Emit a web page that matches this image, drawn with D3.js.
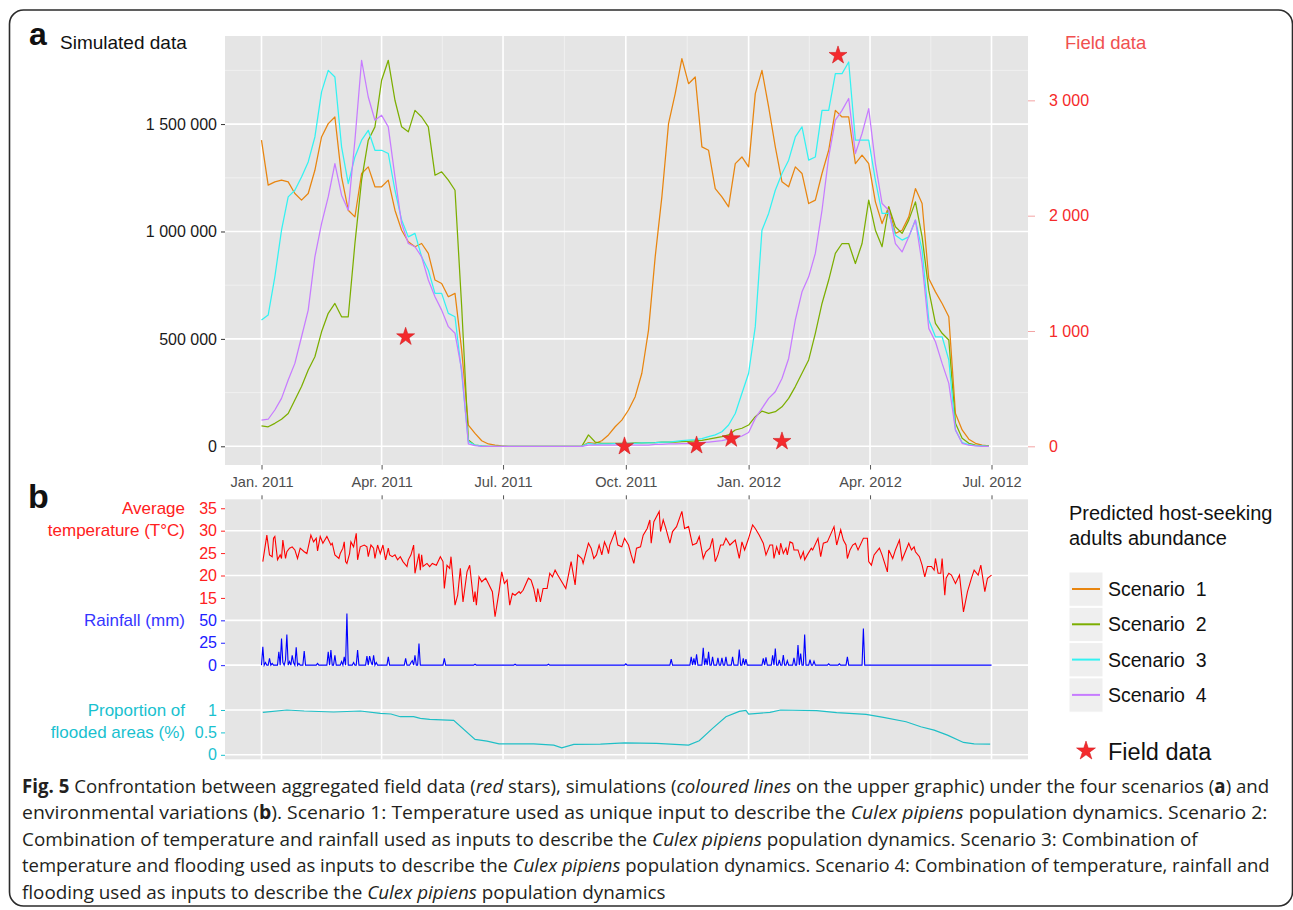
<!DOCTYPE html>
<html>
<head>
<meta charset="utf-8">
<script src="https://cdn.jsdelivr.net/npm/d3@7"></script>
<style>
  html, body { margin: 0; padding: 0; background: #fff; }
  svg { display: block; }
  text { white-space: pre; }
</style>
</head>
<body>
<svg id="fig" width="1293" height="910"></svg>
<script>
// ---------------------------------------------------------------------------
// Data
// ---------------------------------------------------------------------------
const START = new Date(2011, 0, 1);
const END = new Date(2012, 6, 1);
const STEP_DAYS = 5;              // spacing of the simulated abundance values

// Predicted host-seeking adults, thousands, one value every 5 days from 1 Jan 2011
const scenario1 = [
  1425,1216,1231,1239,1231,1177,1146,1177,1285,1440,
  1502,1533,1254,1099,1068,1270,1301,1208,1208,1239,
  1099,1006,952,929,944,898,774,758,696,712,
  448,99,60,26,11,5,2,0,0,0,
  0,0,0,0,0,0,0,0,0,17,
  14,26,53,91,122,169,231,340,541,882,
  1161,1502,1642,1805,1688,1719,1394,1378,1200,1161,
  1115,1316,1347,1301,1642,1750,1580,1394,1231,1208,
  1301,1270,1130,1146,1270,1378,1564,1533,1533,1316,
  1355,1316,1138,1037,1115,991,1006,1068,1200,1130,
  781,719,665,603,153,76,33,14,6,2
];
const scenario2 = [
  95,91,107,126,153,216,278,355,417,533,
  619,665,603,603,944,1239,1425,1487,1704,1797,
  1611,1487,1464,1564,1533,1487,1262,1278,1239,1192,
  650,29,5,2,0,0,0,0,0,0,
  0,0,0,0,0,0,0,0,0,53,
  20,14,14,14,14,14,16,16,17,17,
  19,19,20,22,23,25,28,33,39,45,
  53,76,84,99,138,164,153,161,184,223,
  278,340,402,526,665,774,898,944,944,851,
  944,1146,1006,929,1115,1022,991,1053,1138,975,
  727,572,526,495,107,37,14,6,3,2
];
const scenario3 = [
  588,611,789,1006,1161,1192,1254,1324,1440,1650,
  1750,1719,1394,1223,1347,1425,1471,1378,1378,1363,
  1192,1053,975,991,882,820,712,712,619,603,
  340,22,6,2,0,0,0,0,0,0,
  0,0,0,0,0,0,0,0,0,14,
  9,11,11,12,12,14,14,16,16,17,
  19,20,23,26,29,31,36,45,53,68,
  99,153,247,340,557,1006,1084,1192,1270,1332,
  1440,1487,1332,1347,1564,1564,1735,1735,1789,1425,
  1425,1425,1239,1084,1084,983,960,975,1053,913,
  588,510,510,402,76,17,8,3,2,0
];
const scenario4 = [
  122,126,169,223,309,386,510,634,882,1037,
  1161,1316,1169,1099,1425,1797,1626,1518,1541,1487,
  1254,1037,944,929,882,774,696,634,557,526,
  355,11,3,0,0,0,0,0,0,0,
  0,0,0,0,0,0,0,0,0,5,
  6,6,6,6,6,6,6,6,6,9,
  9,11,11,12,12,14,17,20,23,26,
  33,37,48,64,130,177,223,254,316,409,
  588,719,789,898,1099,1347,1518,1564,1619,1363,
  1456,1572,1316,1130,1099,944,905,975,1053,851,
  549,487,386,293,76,14,5,2,0,0
];
const scenarioLabels = ["Scenario  1", "Scenario  2", "Scenario  3", "Scenario  4"];
const scenarioColors = ["#E8850F", "#7CAE00", "#33F2F2", "#C77CFF"];

// Aggregated field catches: day since 1 Jan 2011, count
const fieldDay   = [108, 272, 326, 352, 390, 432];
const fieldCount = [950, 0, 8, 66, 43, 3390];

// Daily mean temperature (day since 1 Jan 2011, °C)
const temperature = [
  [1,23.1],[4,29.0],[6,24.6],[8,24.2],[9,28.3],[10,28.7],[12,23.5],[14,24.6],[15,23.8],[16,27.9],
  [18,23.8],[19,25.3],[21,26.1],[23,26.4],[25,25.7],[27,23.8],[29,26.1],[32,25.3],[34,24.9],[37,29.0],
  [39,27.5],[41,28.3],[42,25.5],[44,28.7],[46,27.2],[49,28.7],[52,26.8],[53,27.2],[55,24.6],[58,23.8],
  [59,24.9],[61,26.1],[62,27.5],[63,23.1],[64,22.7],[66,24.9],[67,27.5],[69,26.4],[71,29.4],[72,23.5],
  [74,26.4],[77,26.8],[79,26.4],[80,24.2],[82,26.8],[84,26.1],[85,23.8],[87,26.8],[89,24.9],[91,26.8],
  [93,23.5],[95,26.1],[96,24.6],[98,24.2],[100,24.6],[102,23.5],[104,24.2],[106,23.1],[109,22.0],[110,23.5],
  [112,24.6],[114,26.8],[115,20.5],[118,24.9],[119,21.2],[120,24.6],[121,22.0],[124,22.7],[126,22.0],[128,22.7],
  [131,22.3],[134,24.2],[136,23.1],[137,17.1],[139,22.3],[141,21.6],[142,24.2],[145,13.4],[147,15.6],[149,21.6],
  [151,14.1],[154,20.8],[156,22.3],[159,14.1],[160,16.4],[161,13.4],[163,19.7],[165,18.6],[168,19.4],[170,18.2],
  [173,16.4],[175,10.8],[178,16.4],[180,20.8],[182,18.2],[184,19.0],[186,13.4],[188,16.0],[190,15.6],[193,16.4],
  [194,16.0],[196,16.7],[200,19.4],[202,19.0],[204,17.1],[206,14.1],[207,17.1],[209,14.1],[211,17.1],[214,17.1],
  [216,20.5],[218,19.7],[220,21.2],[222,20.1],[228,17.1],[230,20.1],[232,23.1],[235,17.9],[237,24.6],[240,23.8],
  [241,22.7],[245,27.2],[247,26.1],[249,23.8],[251,24.6],[253,26.8],[255,24.6],[257,27.5],[259,26.1],[260,24.9],
  [261,26.8],[265,29.8],[267,26.8],[270,26.4],[272,28.3],[275,26.8],[277,24.6],[279,22.7],[281,26.1],[284,26.4],
  [286,29.0],[289,30.5],[291,32.4],[292,27.2],[294,32.0],[298,34.3],[299,29.8],[301,32.4],[303,30.5],[306,27.2],
  [308,29.8],[311,30.9],[315,34.3],[317,30.5],[320,30.9],[323,26.8],[326,27.2],[328,28.7],[331,23.8],[333,25.3],
  [336,26.1],[338,28.3],[340,23.1],[342,24.6],[344,26.8],[346,26.8],[348,28.3],[351,26.8],[355,27.9],[358,23.8],
  [360,27.5],[362,25.7],[365,28.3],[368,31.3],[370,30.5],[373,29.0],[376,27.2],[378,24.6],[381,26.8],[383,26.8],
  [384,23.8],[386,26.4],[388,24.6],[389,27.2],[391,24.9],[393,26.1],[394,24.6],[396,27.5],[398,27.2],[399,25.7],
  [402,25.7],[404,23.8],[406,25.3],[407,23.5],[409,24.6],[412,26.1],[413,25.7],[417,28.3],[419,24.2],[421,27.2],
  [424,27.5],[429,30.9],[431,26.8],[434,30.2],[436,27.9],[438,26.8],[439,23.8],[441,25.7],[443,26.8],[445,27.2],
  [447,25.7],[451,28.3],[454,28.3],[455,23.1],[457,22.3],[459,24.6],[463,26.1],[465,24.6],[469,20.8],[470,25.7],
  [473,23.8],[475,25.7],[478,27.9],[480,23.5],[485,27.2],[487,25.7],[489,26.4],[490,25.3],[493,24.2],[495,22.3],
  [497,19.7],[499,22.0],[502,22.0],[504,21.2],[505,23.8],[507,20.5],[509,20.5],[510,23.8],[512,15.6],[513,19.4],
  [515,20.5],[517,20.1],[520,18.2],[523,20.1],[526,11.9],[529,16.4],[532,19.4],[534,21.2],[537,20.1],[539,22.3],
  [542,16.4],[544,19.4],[547,20.1]
];

// Rainy days (day since 1 Jan 2011, mm); every other day is dry
const rainfall = [
  [1,20.5],[3,3],[6,7.5],[8,2],[13,15],[15,29.8],[16,3],[18,6],[19,34.3],[21,4],
  [23,11],[24,3],[26,20],[28,2],[32,15.6],[42,2],[50,15],[52,16.8],[55,11],[60,4],
  [62,9.3],[64,57.7],[69,3],[72,16.8],[79,10],[81,10],[82,4],[84,11],[86,3],[95,9.3],
  [108,7.5],[112,3],[113,5],[115,11],[118,24.2],[137,7.5],[160,1],[190,1],[215,1],[273,1.5],
  [307,6.7],[322,9.3],[324,7.5],[326,12],[331,19.4],[333,7.5],[335,15],[338,9.3],[342,8.2],[345,8.2],
  [348,9.3],[353,9.3],[358,17.5],[361,7.5],[363,6.7],[376,7.5],[378,8.6],[383,11],[385,18.6],[388,6],
  [391,11.2],[394,5],[399,8.2],[402,22.4],[404,13],[407,34.3],[411,6.3],[414,4.5],[425,1.5],[433,1.5],
  [439,9.3],[451,41]
];

// Proportion of flooded areas (day since 1 Jan 2011, proportion)
const flooded = [
  [1,0.947],[19,1.0],[32,0.977],[54,0.955],[74,0.977],[89,0.925],[97,0.91],[104,0.85],[114,0.85],[119,0.813],
  [126,0.79],[144,0.768],[160,0.343],[169,0.306],[178,0.246],[204,0.246],[219,0.216],[225,0.157],[234,0.231],[254,0.239],
  [272,0.268],[296,0.254],[320,0.216],[328,0.313],[338,0.589],[348,0.85],[358,0.969],[363,0.992],[365,0.91],[381,0.947],
  [389,1.0],[416,0.984],[431,0.94],[453,0.902],[466,0.835],[483,0.738],[494,0.626],[504,0.552],[514,0.44],[526,0.276],
  [534,0.246],[546,0.239]
];

const dateTicks = [new Date(2011,0,1), new Date(2011,3,1), new Date(2011,6,1),
                   new Date(2011,9,1), new Date(2012,0,1), new Date(2012,3,1), new Date(2012,6,1)];
const dateTickLabels = ["Jan. 2011", "Apr. 2011", "Jul. 2011", "Oct. 2011", "Jan. 2012", "Apr. 2012", "Jul. 2012"];
const abundanceTicks = [0, 500, 1000, 1500];          // thousands
const abundanceMinor = [250, 750, 1250, 1750];
const fieldTicks = [0, 1000, 2000, 3000];
const tempTicks = [15, 20, 25, 30, 35];
const rainTicks = [0, 25, 50];
const floodTicks = [0, 0.5, 1];

const captionLines = [
  [["Fig. 5","b"],[" Confrontation between aggregated field data (",""],["red","i"],[" stars), simulations (",""],["coloured lines","i"],[" on the upper graphic) under the four scenarios (",""],["a","b"],[") and",""]],
  [["environmental variations (",""],["b","b"],["). Scenario 1: Temperature used as unique input to describe the ",""],["Culex pipiens","i"],[" population dynamics. Scenario 2:",""]],
  [["Combination of temperature and rainfall used as inputs to describe the ",""],["Culex pipiens","i"],[" population dynamics. Scenario 3: Combination of",""]],
  [["temperature and flooding used as inputs to describe the ",""],["Culex pipiens","i"],[" population dynamics. Scenario 4: Combination of temperature, rainfall and",""]],
  [["flooding used as inputs to describe the ",""],["Culex pipiens","i"],[" population dynamics",""]]
];
// lines that run to the right margin and their widths
const captionFullLines = [0, 1, 3];
const captionFullWidths = [1248, 1246, 1248];

// ---------------------------------------------------------------------------
// Layout & scales
// ---------------------------------------------------------------------------
const FONT = "'Liberation Sans', Arial, Helvetica, sans-serif";
const svg = d3.select("#fig").style("font-family", FONT);

const PA = {left: 225, right: 1028, top: 36, bottom: 465};      // panel a
const PB = {left: 225, right: 1028, top: 499.3, bottom: 759.3}; // panel b

const span = END - START;
const x = d3.scaleTime()
  .domain([new Date(+START - 0.05 * span), new Date(+END + 0.05 * span)])
  .range([PA.left, PA.right]);
const dayDate = d => d3.timeDay.offset(START, d);

const yA = d3.scaleLinear().domain([-87, 1910]).range([PA.bottom, PA.top]);
const yField = d3.scaleLinear().domain([-162, 3558]).range([PA.bottom, PA.top]);

// panel b stacks three variables on one vertical axis
const u = d3.scaleLinear().domain([-0.2, 11.4]).range([PB.bottom, PB.top]);
const yTemp = d3.scaleLinear().domain([15, 35]).range([u(7), u(11)]);
const yRain = d3.scaleLinear().domain([0, 50]).range([u(4), u(6)]);
const yFlood = d3.scaleLinear().domain([0, 1]).range([u(0), u(2)]);

const spaceFmt = v => d3.format(",")(v).replace(/,/g, " ");

// minor date lines sit halfway between date breaks
const minorDates = d3.pairs(dateTicks).map(([a, b]) => new Date((+a + +b) / 2));

// ---------------------------------------------------------------------------
// Frame
// ---------------------------------------------------------------------------
svg.append("rect")
  .attr("x", 9.5).attr("y", 10).attr("width", 1283).attr("height", 896)
  .attr("rx", 14).attr("fill", "none").attr("stroke", "#2b2b2b").attr("stroke-width", 1.6);

const defs = svg.append("defs");
defs.append("clipPath").attr("id", "clipA").append("rect")
  .attr("x", PA.left).attr("y", PA.top).attr("width", PA.right - PA.left).attr("height", PA.bottom - PA.top);
defs.append("clipPath").attr("id", "clipB").append("rect")
  .attr("x", PB.left).attr("y", PB.top).attr("width", PB.right - PB.left).attr("height", PB.bottom - PB.top);

// ---------------------------------------------------------------------------
// Panel a
// ---------------------------------------------------------------------------
const ga = svg.append("g");
ga.append("rect").attr("x", PA.left).attr("y", PA.top)
  .attr("width", PA.right - PA.left).attr("height", PA.bottom - PA.top).attr("fill", "#e5e5e5");

ga.append("g").selectAll("line").data(abundanceMinor).join("line")
  .attr("x1", PA.left).attr("x2", PA.right).attr("y1", d => yA(d)).attr("y2", d => yA(d))
  .attr("stroke", "#f3f3f3").attr("stroke-width", 0.8);
ga.append("g").selectAll("line").data(minorDates).join("line")
  .attr("y1", PA.top).attr("y2", PA.bottom).attr("x1", d => x(d)).attr("x2", d => x(d))
  .attr("stroke", "#f3f3f3").attr("stroke-width", 0.8);
ga.append("g").selectAll("line").data(abundanceTicks).join("line")
  .attr("x1", PA.left).attr("x2", PA.right).attr("y1", d => yA(d)).attr("y2", d => yA(d))
  .attr("stroke", "#fff").attr("stroke-width", 1.6);
ga.append("g").selectAll("line").data(dateTicks).join("line")
  .attr("y1", PA.top).attr("y2", PA.bottom).attr("x1", d => x(d)).attr("x2", d => x(d))
  .attr("stroke", "#fff").attr("stroke-width", 1.6);

const scenarios = [scenario1, scenario2, scenario3, scenario4];
const simLine = d3.line()
  .x((v, i) => x(dayDate(i * STEP_DAYS)))
  .y(v => yA(v));
ga.append("g").attr("clip-path", "url(#clipA)")
  .selectAll("path").data(scenarios).join("path")
  .attr("d", simLine).attr("fill", "none")
  .attr("stroke", (d, i) => scenarioColors[i]).attr("stroke-width", 1.25)
  .attr("stroke-linejoin", "round");

const star = d3.symbol().type(d3.symbolStar).size(100);
ga.append("g").selectAll("path").data(fieldDay).join("path")
  .attr("d", star)
  .attr("transform", (d, i) => `translate(${x(dayDate(d))},${yField(fieldCount[i])})`)
  .attr("fill", "#F42A2D").attr("stroke", "#d41d20").attr("stroke-width", 0.6);

// left axis (simulated abundance)
const axLeftA = ga.append("g").attr("transform", `translate(${PA.left},0)`)
  .call(d3.axisLeft(yA).tickValues(abundanceTicks).tickSize(4).tickPadding(4)
    .tickFormat(v => spaceFmt(v * 1000)));
axLeftA.select(".domain").remove();
axLeftA.selectAll("line").attr("stroke", "#333");
axLeftA.selectAll("text").attr("font-size", 16).attr("fill", "#1a1a1a").attr("font-family", FONT);

// right axis (field data)
const axRightA = ga.append("g").attr("transform", `translate(${PA.right},0)`)
  .call(d3.axisRight(yField).tickValues(fieldTicks).tickSize(7).tickPadding(14).tickFormat(spaceFmt));
axRightA.select(".domain").remove();
axRightA.selectAll("line").attr("stroke", "#f3a3a3");
axRightA.selectAll("text").attr("font-size", 16).attr("fill", "#F52A2A").attr("font-family", FONT);

// date axis under panel a
const axBottomA = ga.append("g").attr("transform", `translate(0,${PA.bottom})`)
  .call(d3.axisBottom(x).tickValues(dateTicks).tickSize(4.5).tickPadding(7)
    .tickFormat((d, i) => dateTickLabels[i]));
axBottomA.select(".domain").remove();
axBottomA.selectAll("line").attr("stroke", "#555");
axBottomA.selectAll("text").attr("font-size", 14.6).attr("fill", "#4d4d4d").attr("font-family", FONT);

svg.append("text").attr("x", 29).attr("y", 45).attr("font-size", 32).attr("font-weight", "bold")
  .attr("fill", "#111").text("a");
svg.append("text").attr("x", 60).attr("y", 49).attr("font-size", 19).attr("fill", "#111").text("Simulated data");
svg.append("text").attr("x", 1065).attr("y", 49).attr("font-size", 18.5).attr("fill", "#F05050").text("Field data");

// ---------------------------------------------------------------------------
// Panel b
// ---------------------------------------------------------------------------
const gb = svg.append("g");
gb.append("rect").attr("x", PB.left).attr("y", PB.top)
  .attr("width", PB.right - PB.left).attr("height", PB.bottom - PB.top).attr("fill", "#e5e5e5");

gb.append("g").selectAll("line").data(minorDates).join("line")
  .attr("y1", PB.top).attr("y2", PB.bottom).attr("x1", d => x(d)).attr("x2", d => x(d))
  .attr("stroke", "#f3f3f3").attr("stroke-width", 0.8);
gb.append("g").selectAll("line").data([0, 2, 4, 6, 8, 10]).join("line")
  .attr("x1", PB.left).attr("x2", PB.right).attr("y1", d => u(d)).attr("y2", d => u(d))
  .attr("stroke", "#fff").attr("stroke-width", 1.6);
gb.append("g").selectAll("line").data(dateTicks).join("line")
  .attr("y1", PB.top).attr("y2", PB.bottom).attr("x1", d => x(d)).attr("x2", d => x(d))
  .attr("stroke", "#fff").attr("stroke-width", 1.6);

const axTopB = gb.append("g").attr("transform", `translate(0,${PB.top})`)
  .call(d3.axisTop(x).tickValues(dateTicks).tickSize(4).tickFormat(""));
axTopB.select(".domain").remove();
axTopB.selectAll("line").attr("stroke", "#555");

const clipB = gb.append("g").attr("clip-path", "url(#clipB)");

// flooded proportion
clipB.append("path").datum(flooded)
  .attr("d", d3.line().x(d => x(dayDate(d[0]))).y(d => yFlood(d[1])))
  .attr("fill", "none").attr("stroke", "#1FBFC6").attr("stroke-width", 1.2);

// daily rainfall: dry days sit on the zero line
const rainByDay = new Map(rainfall);
const rainDaily = d3.range(0, 548).map(d => [d, rainByDay.get(d) || 0]);
clipB.append("path").datum(rainDaily)
  .attr("d", d3.line().x(d => x(dayDate(d[0]))).y(d => yRain(d[1])))
  .attr("fill", "none").attr("stroke", "#0000ff").attr("stroke-width", 1.1);

// temperature
clipB.append("path").datum(temperature)
  .attr("d", d3.line().x(d => x(dayDate(d[0]))).y(d => yTemp(d[1])))
  .attr("fill", "none").attr("stroke", "#ff0000").attr("stroke-width", 1.1);

function leftAxis(scale, ticks, color, fmt) {
  const g = gb.append("g").attr("transform", `translate(${PB.left},0)`)
    .call(d3.axisLeft(scale).tickValues(ticks).tickSize(4).tickPadding(4).tickFormat(fmt || (d => d)));
  g.select(".domain").remove();
  g.selectAll("line").attr("stroke", color);
  g.selectAll("text").attr("font-size", 16).attr("fill", color).attr("font-family", FONT);
}
leftAxis(yTemp, tempTicks, "#ff2020");
leftAxis(yRain, rainTicks, "#2020ff");
leftAxis(yFlood, floodTicks, "#19C1CF");

const axisTitle = (lines, ys, color) => lines.forEach((t, i) =>
  gb.append("text").attr("x", 185).attr("y", ys[i]).attr("text-anchor", "end")
    .attr("font-size", 17).attr("fill", color).text(t));
axisTitle(["Average", "temperature (T°C)"], [514, 536], "#ff2020");
axisTitle(["Rainfall (mm)"], [626], "#3535ff");
axisTitle(["Proportion of", "flooded areas (%)"], [716, 738], "#19C1CF");

svg.append("text").attr("x", 28).attr("y", 508).attr("font-size", 34).attr("font-weight", "bold")
  .attr("fill", "#111").text("b");

// ---------------------------------------------------------------------------
// Legend
// ---------------------------------------------------------------------------
const lg = svg.append("g");
["Predicted host-seeking", "adults abundance"].forEach((t, i) =>
  lg.append("text").attr("x", 1069).attr("y", 520 + i * 25).attr("font-size", 20).attr("fill", "#111").text(t));

const keys = lg.selectAll("g.key").data(scenarioLabels).join("g").attr("class", "key")
  .attr("transform", (d, i) => `translate(1069,${572 + i * 35.3})`);
keys.append("rect").attr("width", 34).attr("height", 34.3).attr("fill", "#efefef")
  .attr("stroke", "#fff").attr("stroke-width", 1);
keys.append("line").attr("x1", 3).attr("x2", 31).attr("y1", 17).attr("y2", 17)
  .attr("stroke", (d, i) => scenarioColors[i]).attr("stroke-width", 2);
keys.append("text").attr("x", 39).attr("y", 24).attr("font-size", 19.5).attr("fill", "#111").text(d => d);

lg.append("path").attr("d", d3.symbol().type(d3.symbolStar).size(110))
  .attr("transform", "translate(1086,751)").attr("fill", "#F42A2D").attr("stroke", "#d41d20").attr("stroke-width", 0.6);
lg.append("text").attr("x", 1108).attr("y", 759.5).attr("font-size", 23.5).attr("fill", "#111").text("Field data");

// ---------------------------------------------------------------------------
// Caption: full-width lines are fitted to the margin, the short ones use the mean fit
// ---------------------------------------------------------------------------
const cap = svg.append("g").attr("font-family", "'Open Sans', 'Noto Sans', sans-serif")
  .attr("font-size", 19).attr("fill", "#231f20");
const capTexts = captionLines.map(segs => {
  const t = cap.append("text").attr("x", 0).attr("y", 0);
  segs.forEach(([s, st]) => {
    const ts = t.append("tspan").text(s);
    if (st === "b") ts.attr("font-weight", "bold");
    if (st === "i") ts.attr("font-style", "italic");
  });
  return t;
});
const fits = captionFullLines.map((li, k) => {
  const w = capTexts[li].node().getComputedTextLength();
  return w > 0 ? captionFullWidths[k] / w : 1;
});
const meanFit = d3.mean(fits);
capTexts.forEach((t, li) => {
  const k = captionFullLines.indexOf(li);
  const s = k >= 0 ? fits[k] : meanFit;
  t.attr("transform", `translate(22,${793 + li * 26.4}) scale(${s},1)`);
});
</script>
</body>
</html>
